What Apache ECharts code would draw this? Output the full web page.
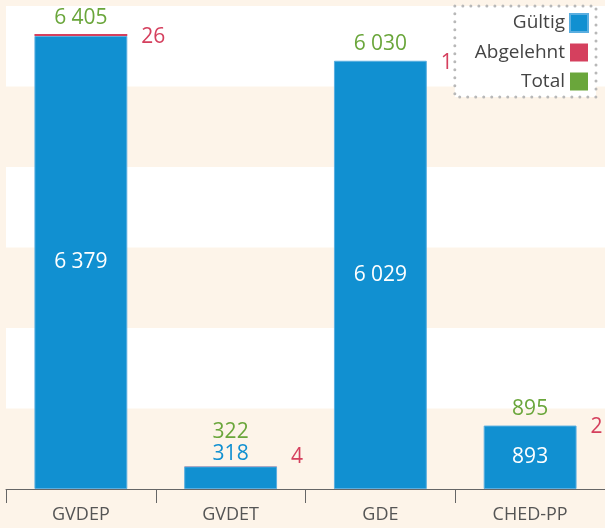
<!DOCTYPE html>
<html>
<head>
<meta charset="utf-8">
<script src="https://cdn.jsdelivr.net/npm/echarts@6/dist/echarts.min.js"></script>
<style>
html,body{margin:0;padding:0;background:#fdf4e9;}
#chart{width:605px;height:528px;}
</style>
</head>
<body>
<div id="chart"></div>
<script>
var categories = ['GVDEP', 'GVDET', 'GDE', 'CHED-PP'];
var valid = [6379, 318, 6029, 893];
var rejected = [26, 4, 1, 2];
var totals = [6405, 322, 6030, 895];
var seriesNames = ['Gültig', 'Abgelehnt', 'Total'];

var BLUE = '#1190d1', RED = '#d5405e', GREEN = '#6aa63b', CREAM = '#fdf4e9';
var FONT = 'Open Sans';
function fmt(v) { return String(v).replace(/\B(?=(\d{3})+(?!\d))/g, ' '); }
var SMALL = 500;

var chart = echarts.init(document.getElementById('chart'));
chart.setOption({
  backgroundColor: CREAM,
  animation: false,
  grid: { left: 6, right: 0, top: 6, bottom: 39 },
  legend: {
    orient: 'vertical', right: 9, top: 6, align: 'right',
    itemWidth: 18, itemHeight: 18, itemGap: 10,
    padding: [7, 7, 6, 20],
    backgroundColor: '#ffffff', borderColor: '#b8b8b8', borderWidth: 3,
    borderType: [0.01, 8], borderCap: 'round',
    textStyle: { fontFamily: FONT, fontSize: 19, color: '#444' },
    data: [
      { name: seriesNames[0], icon: 'rect', itemStyle: { color: BLUE } },
      { name: seriesNames[1], icon: 'rect', itemStyle: { color: RED } },
      { name: seriesNames[2], icon: 'rect', itemStyle: { color: GREEN } }
    ],
    selectedMode: false
  },
  xAxis: {
    type: 'category', data: categories,
    axisLine: { lineStyle: { color: '#666', width: 1 } },
    axisTick: { show: true, length: 14, lineStyle: { color: '#666' } },
    axisLabel: { fontFamily: FONT, fontSize: 18, color: '#555', margin: 17 }
  },
  yAxis: {
    type: 'value', min: 0, max: 6800, interval: 6800 / 6,
    axisLabel: { show: false }, axisLine: { show: false }, axisTick: { show: false },
    splitLine: { show: false },
    splitArea: { show: true, areaStyle: { color: [CREAM, '#ffffff'] } }
  },
  series: [
    {
      name: seriesNames[2], type: 'bar', barWidth: '62%', barGap: '-100%',
      itemStyle: { color: 'rgba(0,0,0,0)' }, z: 1,
      data: totals.map(function (v, i) {
        return { value: v, label: { distance: valid[i] < SMALL ? 24 : 6 } };
      }),
      label: { show: true, position: 'top', color: GREEN, fontFamily: FONT, fontSize: 21,
        formatter: function (p) { return fmt(p.value); } }
    },
    {
      name: seriesNames[0], type: 'bar', stack: 's', barWidth: '62%', z: 2,
      itemStyle: { color: BLUE, borderColor: '#5aaee0', borderWidth: 1 },
      data: valid.map(function (v) {
        return v < SMALL ? { value: v, label: { position: 'top', color: BLUE, distance: 2 } } : v;
      }),
      label: { show: true, position: 'inside', color: '#ffffff', fontFamily: FONT, fontSize: 21,
        formatter: function (p) { return fmt(p.value); } }
    },
    {
      name: seriesNames[1], type: 'bar', stack: 's', barWidth: '62%', z: 2,
      itemStyle: { color: RED },
      data: rejected.map(function (v, i) {
        return valid[i] < SMALL ? { value: v, label: { offset: [0, -9] } } : v;
      }),
      label: { show: true, position: 'right', distance: 14, offset: [0, 2], color: RED, fontFamily: FONT, fontSize: 21,
        formatter: function (p) { return fmt(p.value); } }
    }
  ]
});
</script>
</body>
</html>
